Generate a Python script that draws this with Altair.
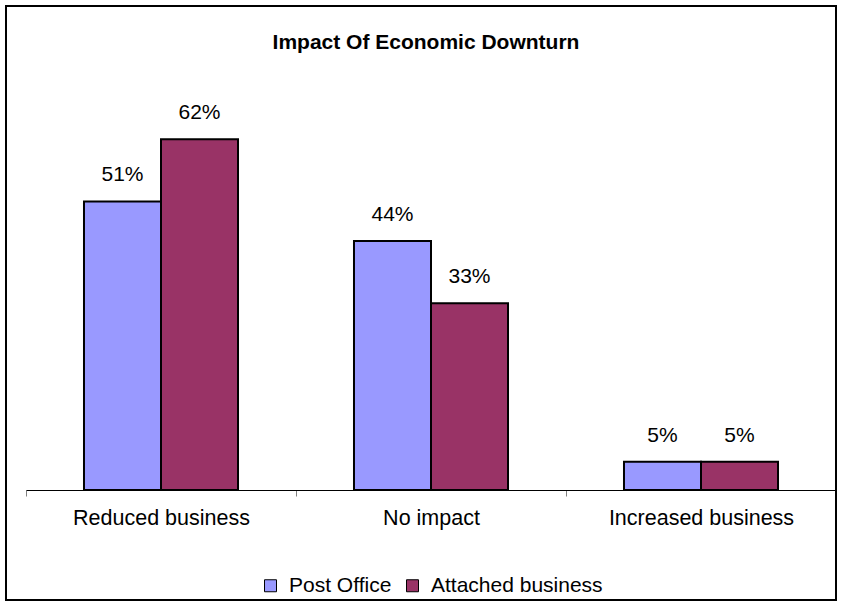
import altair as alt
import pandas as pd

categories = ["Reduced business", "No impact", "Increased business"]
series = ["Post Office", "Attached business"]
post_office = [51, 44, 5]
attached_business = [62, 33, 5]
colors = ["#9999FF", "#993366"]
title_text = "Impact Of Economic Downturn"

rows = []
for s, vals in zip(series, [post_office, attached_business]):
    for c, v in zip(categories, vals):
        rows.append({"category": c, "series": s, "value": v, "label": f"{v}%"})
df = pd.DataFrame(rows)

FONT = "Liberation Sans"
W, H = 810, 396

x_enc = alt.X("category:N", sort=categories,
              scale=alt.Scale(paddingInner=0, paddingOuter=0),
              axis=alt.Axis(title=None, labelAngle=0, tickBand="extent",
                            tickSize=6, tickColor="#808080", domainColor="#000000",
                            domainWidth=1, labelFont=FONT, labelFontSize=21.5,
                            labelColor="#000000", labelPadding=11, grid=False,
                            labelLimit=0))
xo_enc = alt.XOffset("series:N", sort=series,
                     scale=alt.Scale(paddingInner=0, paddingOuter=0.753))
y_enc = alt.Y("value:Q", scale=alt.Scale(domain=[0, 70]), axis=None)

bars = alt.Chart(df).mark_bar(stroke="black", strokeWidth=2).encode(
    x=x_enc, xOffset=xo_enc, y=y_enc,
    color=alt.Color("series:N", sort=series,
                    scale=alt.Scale(domain=series, range=colors),
                    legend=alt.Legend(orient="none", legendX=234, legendY=481,
                                      direction="horizontal", title=None,
                                      symbolType="square", symbolSize=144,
                                      symbolStrokeColor="black", symbolStrokeWidth=1,
                                      symbolOpacity=1, labelLimit=0,
                                      labelFont=FONT, labelFontSize=21,
                                      labelColor="#000000", labelOffset=8,
                                      columnPadding=10, padding=0)),
)

labels = alt.Chart(df).mark_text(baseline="alphabetic", dy=-20, fontSize=21,
                                 font=FONT, color="black").encode(
    x=x_enc, xOffset=xo_enc, y=y_enc, text="label:N"
)

title = alt.Chart(pd.DataFrame({"t": [title_text]})).mark_text(
    font=FONT, fontSize=21, fontWeight="bold", color="black",
    align="center", baseline="alphabetic"
).encode(text="t:N", x=alt.value(W / 2 - 5), y=alt.value(-45))

border = alt.Chart(pd.DataFrame({"a": [0]})).mark_rect(
    fill=None, stroke="black", strokeWidth=2
).encode(x=alt.value(-20), x2=alt.value(810), y=alt.value(-88), y2=alt.value(506))

chart = alt.layer(border, bars, labels, title).properties(
    width=W, height=H,
    autosize=alt.AutoSizeParams(type="none"),
    padding={"left": 26, "top": 94, "right": 6, "bottom": 117},
    background="white",
).configure_view(strokeWidth=0)

chart.save("out.html", embed_options={"renderer": "svg", "actions": False})
